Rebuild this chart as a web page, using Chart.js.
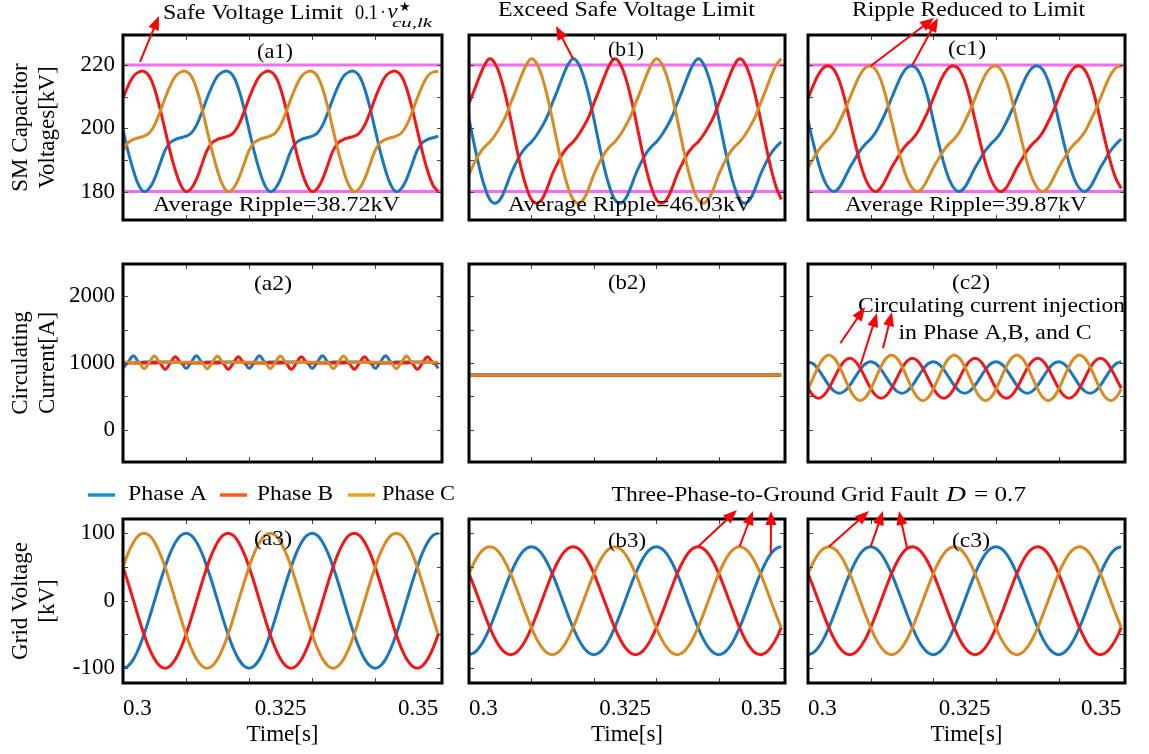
<!DOCTYPE html>
<html>
<head>
<meta charset="utf-8">
<script src="https://cdn.jsdelivr.net/npm/chart.js@4.4.1/dist/chart.umd.min.js"></script>
<style>
  html, body { margin: 0; padding: 0; background: #fff; }
  #fig { position: relative; width: 1149px; height: 754px; overflow: hidden; background: #fff; }
  #fig canvas { position: absolute; }
</style>
</head>
<body>
<div id="fig"></div>
<script>
// --- DATA (sampled every 15 deg of 50 Hz) ---
const time = [
  0.3, 0.30083, 0.30167, 0.3025, 0.30333, 0.30417, 0.305, 0.30583, 0.30667, 0.3075, 0.30833, 0.30917,
  0.31, 0.31083, 0.31167, 0.3125, 0.31333, 0.31417, 0.315, 0.31583, 0.31667, 0.3175, 0.31833, 0.31917,
  0.32, 0.32083, 0.32167, 0.3225, 0.32333, 0.32417, 0.325, 0.32583, 0.32667, 0.3275, 0.32833, 0.32917,
  0.33, 0.33083, 0.33167, 0.3325, 0.33333, 0.33417, 0.335, 0.33583, 0.33667, 0.3375, 0.33833, 0.33917,
  0.34, 0.34083, 0.34167, 0.3425, 0.34333, 0.34417, 0.345, 0.34583, 0.34667, 0.3475, 0.34833, 0.34917,
  0.35
];
const phaseNames = ['Phase A', 'Phase B', 'Phase C'];
const xTickVals = [0.3, 0.325, 0.35];
const xMinorTicks = [0.31, 0.32, 0.33, 0.34];
const safeLimit = [180, 220];

// (a1) SM capacitor voltages [kV]
const a1PhaseA = [
  199.5, 192.5, 186.5, 182, 180, 181, 184, 188.5, 193, 195.5, 196.5, 197,
  197.5, 198.5, 201, 205, 209.5, 213.5, 216.5, 217.8,
  218, 216.5, 212.5, 206.5, 199.5, 192.5, 186.5, 182, 180, 181, 184, 188.5,
  193, 195.5, 196.5, 197, 197.5, 198.5, 201, 205, 209.5, 213.5, 216.5, 217.8,
  218, 216.5, 212.5, 206.5, 199.5, 192.5, 186.5, 182, 180, 181, 184, 188.5,
  193, 195.5, 196.5, 197, 197.5
];
const a1PhaseB = [
  209.5, 213.5, 216.5, 217.8,
  218, 216.5, 212.5, 206.5, 199.5, 192.5, 186.5, 182, 180, 181, 184, 188.5,
  193, 195.5, 196.5, 197, 197.5, 198.5, 201, 205, 209.5, 213.5, 216.5, 217.8,
  218, 216.5, 212.5, 206.5, 199.5, 192.5, 186.5, 182, 180, 181, 184, 188.5,
  193, 195.5, 196.5, 197, 197.5, 198.5, 201, 205, 209.5, 213.5, 216.5, 217.8,
  218, 216.5, 212.5, 206.5, 199.5, 192.5, 186.5, 182, 180
];
const a1PhaseC = [
  193, 195.5, 196.5, 197, 197.5, 198.5, 201, 205, 209.5, 213.5, 216.5, 217.8,
  218, 216.5, 212.5, 206.5, 199.5, 192.5, 186.5, 182, 180, 181, 184, 188.5,
  193, 195.5, 196.5, 197, 197.5, 198.5, 201, 205, 209.5, 213.5, 216.5, 217.8,
  218, 216.5, 212.5, 206.5, 199.5, 192.5, 186.5, 182, 180, 181, 184, 188.5,
  193, 195.5, 196.5, 197, 197.5, 198.5, 201, 205, 209.5, 213.5, 216.5, 217.8,
  218
];

// (b1)
const b1PhaseA = [
  203, 195, 187.5, 181.5, 177.5, 176.3, 177.5, 181, 185.4, 188.9, 192, 194.1,
  195.7, 197.8, 200.5, 203.6, 207.9, 212, 216.3, 220,
  222, 220.5, 216.5, 210.5, 203, 195, 187.5, 181.5, 177.5, 176.3, 177.5, 181,
  185.4, 188.9, 192, 194.1, 195.7, 197.8, 200.5, 203.6, 207.9, 212, 216.3, 220,
  222, 220.5, 216.5, 210.5, 203, 195, 187.5, 181.5, 177.5, 176.3, 177.5, 181,
  185.4, 188.9, 192, 194.1, 195.7
];
const b1PhaseB = [
  207.9, 212, 216.3, 220,
  222, 220.5, 216.5, 210.5, 203, 195, 187.5, 181.5, 177.5, 176.3, 177.5, 181,
  185.4, 188.9, 192, 194.1, 195.7, 197.8, 200.5, 203.6, 207.9, 212, 216.3, 220,
  222, 220.5, 216.5, 210.5, 203, 195, 187.5, 181.5, 177.5, 176.3, 177.5, 181,
  185.4, 188.9, 192, 194.1, 195.7, 197.8, 200.5, 203.6, 207.9, 212, 216.3, 220,
  222, 220.5, 216.5, 210.5, 203, 195, 187.5, 181.5, 177.5
];
const b1PhaseC = [
  185.4, 188.9, 192, 194.1, 195.7, 197.8, 200.5, 203.6, 207.9, 212, 216.3, 220,
  222, 220.5, 216.5, 210.5, 203, 195, 187.5, 181.5, 177.5, 176.3, 177.5, 181,
  185.4, 188.9, 192, 194.1, 195.7, 197.8, 200.5, 203.6, 207.9, 212, 216.3, 220,
  222, 220.5, 216.5, 210.5, 203, 195, 187.5, 181.5, 177.5, 176.3, 177.5, 181,
  185.4, 188.9, 192, 194.1, 195.7, 197.8, 200.5, 203.6, 207.9, 212, 216.3, 220,
  222
];

// (c1)
const c1PhaseA = [
  202.5, 195.5, 189, 184, 181, 180, 181.3, 184.2, 187.5, 190.3, 193, 195,
  196.6, 198.8, 202, 205.5, 209.5, 213.5, 217, 219.2,
  219.7, 218.5, 215, 209.5, 202.5, 195.5, 189, 184, 181, 180, 181.3, 184.2,
  187.5, 190.3, 193, 195, 196.6, 198.8, 202, 205.5, 209.5, 213.5, 217, 219.2,
  219.7, 218.5, 215, 209.5, 202.5, 195.5, 189, 184, 181, 180, 181.3, 184.2,
  187.5, 190.3, 193, 195, 196.6
];
const c1PhaseB = [
  209.5, 213.5, 217, 219.2,
  219.7, 218.5, 215, 209.5, 202.5, 195.5, 189, 184, 181, 180, 181.3, 184.2,
  187.5, 190.3, 193, 195, 196.6, 198.8, 202, 205.5, 209.5, 213.5, 217, 219.2,
  219.7, 218.5, 215, 209.5, 202.5, 195.5, 189, 184, 181, 180, 181.3, 184.2,
  187.5, 190.3, 193, 195, 196.6, 198.8, 202, 205.5, 209.5, 213.5, 217, 219.2,
  219.7, 218.5, 215, 209.5, 202.5, 195.5, 189, 184, 181
];
const c1PhaseC = [
  187.5, 190.3, 193, 195, 196.6, 198.8, 202, 205.5, 209.5, 213.5, 217, 219.2,
  219.7, 218.5, 215, 209.5, 202.5, 195.5, 189, 184, 181, 180, 181.3, 184.2,
  187.5, 190.3, 193, 195, 196.6, 198.8, 202, 205.5, 209.5, 213.5, 217, 219.2,
  219.7, 218.5, 215, 209.5, 202.5, 195.5, 189, 184, 181, 180, 181.3, 184.2,
  187.5, 190.3, 193, 195, 196.6, 198.8, 202, 205.5, 209.5, 213.5, 217, 219.2,
  219.7
];

// (a2) circulating current [A]
const a2PhaseA = [
  920, 1015, 1110, 1015, 1015, 1015, 1015, 1015, 1015, 1015, 1015, 1015,
  920, 1015, 1110, 1015, 1015, 1015, 1015, 1015, 1015, 1015, 1015, 1015,
  920, 1015, 1110, 1015, 1015, 1015, 1015, 1015, 1015, 1015, 1015, 1015,
  920, 1015, 1110, 1015, 1015, 1015, 1015, 1015, 1015, 1015, 1015, 1015,
  920, 1015, 1110, 1015, 1015, 1015, 1015, 1015, 1015, 1015, 1015, 1015,
  920
];
const a2PhaseB = [
  1000, 1000, 1000, 1000, 1000, 1000, 1000, 1000, 905, 1000, 1095, 1000,
  1000, 1000, 1000, 1000, 1000, 1000, 1000, 1000, 905, 1000, 1095, 1000,
  1000, 1000, 1000, 1000, 1000, 1000, 1000, 1000, 905, 1000, 1095, 1000,
  1000, 1000, 1000, 1000, 1000, 1000, 1000, 1000, 905, 1000, 1095, 1000,
  1000, 1000, 1000, 1000, 1000, 1000, 1000, 1000, 905, 1000, 1095, 1000,
  1000
];
const a2PhaseC = [
  1010, 1010, 1010, 1010, 915, 1010, 1105, 1010, 1010, 1010, 1010, 1010,
  1010, 1010, 1010, 1010, 915, 1010, 1105, 1010, 1010, 1010, 1010, 1010,
  1010, 1010, 1010, 1010, 915, 1010, 1105, 1010, 1010, 1010, 1010, 1010,
  1010, 1010, 1010, 1010, 915, 1010, 1105, 1010, 1010, 1010, 1010, 1010,
  1010, 1010, 1010, 1010, 915, 1010, 1105, 1010, 1010, 1010, 1010, 1010,
  1010
];

// (b2)
const b2PhaseA = [
  823, 823, 823, 823, 823, 823, 823, 823, 823, 823, 823, 823,
  823, 823, 823, 823, 823, 823, 823, 823, 823, 823, 823, 823,
  823, 823, 823, 823, 823, 823, 823, 823, 823, 823, 823, 823,
  823, 823, 823, 823, 823, 823, 823, 823, 823, 823, 823, 823,
  823, 823, 823, 823, 823, 823, 823, 823, 823, 823, 823, 823,
  823
];
const b2PhaseB = [
  818, 818, 818, 818, 818, 818, 818, 818, 818, 818, 818, 818,
  818, 818, 818, 818, 818, 818, 818, 818, 818, 818, 818, 818,
  818, 818, 818, 818, 818, 818, 818, 818, 818, 818, 818, 818,
  818, 818, 818, 818, 818, 818, 818, 818, 818, 818, 818, 818,
  818, 818, 818, 818, 818, 818, 818, 818, 818, 818, 818, 818,
  818
];
const b2PhaseC = [
  820, 820, 820, 820, 820, 820, 820, 820, 820, 820, 820, 820,
  820, 820, 820, 820, 820, 820, 820, 820, 820, 820, 820, 820,
  820, 820, 820, 820, 820, 820, 820, 820, 820, 820, 820, 820,
  820, 820, 820, 820, 820, 820, 820, 820, 820, 820, 820, 820,
  820, 820, 820, 820, 820, 820, 820, 820, 820, 820, 820, 820,
  820
];

// (c2) 100 Hz injection
const c2PhaseA = [
  1020, 988, 902, 784, 666, 580, 548, 580, 666, 784, 902, 988,
  1020, 988, 902, 784, 666, 580, 548, 580, 666, 784, 902, 988,
  1020, 988, 902, 784, 666, 580, 548, 580, 666, 784, 902, 988,
  1020, 988, 902, 784, 666, 580, 548, 580, 666, 784, 902, 988,
  1020, 988, 902, 784, 666, 580, 548, 580, 666, 784, 902, 988,
  1020
];
const c2PhaseB = [
  623, 514, 474, 514, 623, 772, 921, 1030, 1070, 1030, 921, 772,
  623, 514, 474, 514, 623, 772, 921, 1030, 1070, 1030, 921, 772,
  623, 514, 474, 514, 623, 772, 921, 1030, 1070, 1030, 921, 772,
  623, 514, 474, 514, 623, 772, 921, 1030, 1070, 1030, 921, 772,
  623, 514, 474, 514, 623, 772, 921, 1030, 1070, 1030, 921, 772,
  623
];
const c2PhaseC = [
  608, 778, 949, 1073, 1119, 1073, 949, 778, 608, 483, 437, 483,
  608, 778, 949, 1073, 1119, 1073, 949, 778, 608, 483, 437, 483,
  608, 778, 949, 1073, 1119, 1073, 949, 778, 608, 483, 437, 483,
  608, 778, 949, 1073, 1119, 1073, 949, 778, 608, 483, 437, 483,
  608, 778, 949, 1073, 1119, 1073, 949, 778, 608, 483, 437, 483,
  608
];

// (a3) grid voltage [kV], healthy
const a3PhaseA = [
  -100, -96.6, -86.6, -70.7, -50, -25.9, 0, 25.9, 50, 70.7, 86.6, 96.6,
  100, 96.6, 86.6, 70.7, 50, 25.9, 0, -25.9, -50, -70.7, -86.6, -96.6,
  -100, -96.6, -86.6, -70.7, -50, -25.9, 0, 25.9, 50, 70.7, 86.6, 96.6,
  100, 96.6, 86.6, 70.7, 50, 25.9, 0, -25.9, -50, -70.7, -86.6, -96.6,
  -100, -96.6, -86.6, -70.7, -50, -25.9, 0, 25.9, 50, 70.7, 86.6, 96.6,
  100
];
const a3PhaseB = [
  50, 25.9, 0, -25.9, -50, -70.7, -86.6, -96.6, -100, -96.6, -86.6, -70.7,
  -50, -25.9, 0, 25.9, 50, 70.7, 86.6, 96.6, 100, 96.6, 86.6, 70.7,
  50, 25.9, 0, -25.9, -50, -70.7, -86.6, -96.6, -100, -96.6, -86.6, -70.7,
  -50, -25.9, 0, 25.9, 50, 70.7, 86.6, 96.6, 100, 96.6, 86.6, 70.7,
  50, 25.9, 0, -25.9, -50, -70.7, -86.6, -96.6, -100, -96.6, -86.6, -70.7,
  -50
];
const a3PhaseC = [
  50, 70.7, 86.6, 96.6, 100, 96.6, 86.6, 70.7, 50, 25.9, 0, -25.9,
  -50, -70.7, -86.6, -96.6, -100, -96.6, -86.6, -70.7, -50, -25.9, 0, 25.9,
  50, 70.7, 86.6, 96.6, 100, 96.6, 86.6, 70.7, 50, 25.9, 0, -25.9,
  -50, -70.7, -86.6, -96.6, -100, -96.6, -86.6, -70.7, -50, -25.9, 0, 25.9,
  50, 70.7, 86.6, 96.6, 100, 96.6, 86.6, 70.7, 50, 25.9, 0, -25.9,
  -50
];

// (b3)/(c3) grid voltage during fault, D = 0.7
const faultPhaseA = [
  -80, -77.3, -69.3, -56.6, -40, -20.7, 0, 20.7, 40, 56.6, 69.3, 77.3,
  80, 77.3, 69.3, 56.6, 40, 20.7, 0, -20.7, -40, -56.6, -69.3, -77.3,
  -80, -77.3, -69.3, -56.6, -40, -20.7, 0, 20.7, 40, 56.6, 69.3, 77.3,
  80, 77.3, 69.3, 56.6, 40, 20.7, 0, -20.7, -40, -56.6, -69.3, -77.3,
  -80, -77.3, -69.3, -56.6, -40, -20.7, 0, 20.7, 40, 56.6, 69.3, 77.3,
  80
];
const faultPhaseB = [
  40, 20.7, 0, -20.7, -40, -56.6, -69.3, -77.3, -80, -77.3, -69.3, -56.6,
  -40, -20.7, 0, 20.7, 40, 56.6, 69.3, 77.3, 80, 77.3, 69.3, 56.6,
  40, 20.7, 0, -20.7, -40, -56.6, -69.3, -77.3, -80, -77.3, -69.3, -56.6,
  -40, -20.7, 0, 20.7, 40, 56.6, 69.3, 77.3, 80, 77.3, 69.3, 56.6,
  40, 20.7, 0, -20.7, -40, -56.6, -69.3, -77.3, -80, -77.3, -69.3, -56.6,
  -40
];
const faultPhaseC = [
  40, 56.6, 69.3, 77.3, 80, 77.3, 69.3, 56.6, 40, 20.7, 0, -20.7,
  -40, -56.6, -69.3, -77.3, -80, -77.3, -69.3, -56.6, -40, -20.7, 0, 20.7,
  40, 56.6, 69.3, 77.3, 80, 77.3, 69.3, 56.6, 40, 20.7, 0, -20.7,
  -40, -56.6, -69.3, -77.3, -80, -77.3, -69.3, -56.6, -40, -20.7, 0, 20.7,
  40, 56.6, 69.3, 77.3, 80, 77.3, 69.3, 56.6, 40, 20.7, 0, -20.7,
  -40
];

// --- LAYOUT / STYLE ---
const SERIF = "'Liberation Serif', 'Times New Roman', serif";
const lineColors = ['#1a76bd', '#f41616', '#d98a22'];
const legendColors = ['#1e90d8', '#ff5a1f', '#eba21e'];
const COLS = { a: [123, 442], b: [469, 785], c: [808, 1125] };
const ROWS = { 1: [35, 220], 2: [264, 462], 3: [519, 683] };

const rowCfg = {
  1: { min: 171, max: 229.5, yTicks: [180, 200, 220], yMinor: [180, 190, 200, 210, 220], title: ['SM Capacitor', 'Voltages[kV]'], limits: safeLimit },
  2: { min: -480, max: 2480, yTicks: [0, 1000, 2000], yMinor: [0, 500, 1000, 1500, 2000], title: ['Circulating', 'Current[A]'], limits: null },
  3: { min: -122, max: 121, yTicks: [-100, 0, 100], yMinor: [-100, -50, 0, 50, 100], title: ['Grid Voltage', '[kV]'], limits: null }
};

const panels = [
  { id: 'a1', col: 'a', row: 1, series: [a1PhaseA, a1PhaseB, a1PhaseC] },
  { id: 'b1', col: 'b', row: 1, series: [b1PhaseA, b1PhaseB, b1PhaseC] },
  { id: 'c1', col: 'c', row: 1, series: [c1PhaseA, c1PhaseB, c1PhaseC] },
  { id: 'a2', col: 'a', row: 2, series: [a2PhaseA, a2PhaseB, a2PhaseC] },
  { id: 'b2', col: 'b', row: 2, series: [b2PhaseA, b2PhaseB, b2PhaseC] },
  { id: 'c2', col: 'c', row: 2, series: [c2PhaseA, c2PhaseB, c2PhaseC] },
  { id: 'a3', col: 'a', row: 3, series: [a3PhaseA, a3PhaseB, a3PhaseC] },
  { id: 'b3', col: 'b', row: 3, series: [faultPhaseA, faultPhaseB, faultPhaseC] },
  { id: 'c3', col: 'c', row: 3, series: [faultPhaseA, faultPhaseB, faultPhaseC] }
];

// magenta limits, inward ticks and the black frame
const panelDeco = {
  id: 'panelDeco',
  beforeDatasetsDraw(chart, args, opts) {
    if (!opts.limits) return;
    const { ctx, chartArea: a, scales: { y } } = chart;
    ctx.save();
    ctx.strokeStyle = '#f36cf3';
    ctx.lineWidth = 3;
    opts.limits.forEach(v => {
      const py = y.getPixelForValue(v);
      ctx.beginPath(); ctx.moveTo(a.left, py); ctx.lineTo(a.right, py); ctx.stroke();
    });
    ctx.restore();
  },
  afterDraw(chart, args, opts) {
    const { ctx, chartArea: a, scales: { x, y } } = chart;
    ctx.save();
    ctx.strokeStyle = '#444';
    ctx.lineWidth = 1;
    ctx.beginPath();
    opts.xMinor.forEach(v => {
      const px = Math.round(x.getPixelForValue(v)) + 0.5;
      ctx.moveTo(px, a.top); ctx.lineTo(px, a.top + 5);
      ctx.moveTo(px, a.bottom); ctx.lineTo(px, a.bottom - 5);
    });
    opts.yMinor.forEach(v => {
      const py = Math.round(y.getPixelForValue(v)) + 0.5;
      ctx.moveTo(a.left, py); ctx.lineTo(a.left + 5, py);
      ctx.moveTo(a.right, py); ctx.lineTo(a.right - 5, py);
    });
    ctx.stroke();
    ctx.strokeStyle = '#000';
    ctx.lineWidth = 3;
    ctx.strokeRect(a.left, a.top, a.right - a.left, a.bottom - a.top);
    ctx.restore();
  }
};

const fig = document.getElementById('fig');
const charts = {};

function makePanel(p) {
  const [bl, br] = COLS[p.col];
  const [bt, bb] = ROWS[p.row];
  const firstCol = p.col === 'a';
  const lastRow = p.row === 3;
  const rp = lastRow ? 24 : 6;
  const left = firstCol ? 0 : bl - 6;
  const top = bt - 6;
  const width = br + rp - left;
  const height = (lastRow ? 754 : bb + 6) - top;
  const r = rowCfg[p.row];

  const cv = document.createElement('canvas');
  cv.width = width; cv.height = height;
  cv.style.left = left + 'px'; cv.style.top = top + 'px';
  cv.style.width = width + 'px'; cv.style.height = height + 'px';
  fig.appendChild(cv);

  const chart = new Chart(cv, {
    type: 'line',
    data: {
      labels: time,
      datasets: p.series.map((vals, i) => ({
        label: phaseNames[i],
        data: vals,
        borderColor: lineColors[i],
        borderWidth: 3,
        pointRadius: 0,
        tension: 0.4,
        fill: false,
        order: 3 - i
      }))
    },
    options: {
      responsive: false,
      animation: false,
      events: [],
      layout: { padding: { left: firstCol ? 0 : 6, right: rp, top: 6, bottom: lastRow ? 0 : 6 } },
      plugins: {
        legend: { display: false },
        tooltip: { enabled: false },
        panelDeco: { limits: r.limits, yMinor: r.yMinor, xMinor: xMinorTicks }
      },
      scales: {
        x: {
          type: 'linear', min: 0.3, max: 0.3506,
          grid: { display: false }, border: { display: false },
          ticks: { display: lastRow, color: '#000', font: { family: SERIF, size: 23 }, padding: 4, align: 'inner', maxRotation: 0, autoSkip: false, callback: v => String(v) },
          afterBuildTicks: s => { s.ticks = xTickVals.map(v => ({ value: v })); },
          title: { display: lastRow, text: 'Time[s]', color: '#000', font: { family: SERIF, size: 23 }, padding: { top: 0, bottom: 5 } },
          afterFit: s => { s.height = lastRow ? 71 : 0; s.paddingLeft = 0; s.paddingRight = 0; s.paddingTop = 0; s.paddingBottom = 0; }
        },
        y: {
          min: r.min, max: r.max,
          grid: { display: false }, border: { display: false },
          ticks: { display: firstCol, color: '#000', font: { family: SERIF, size: 23 }, padding: 0, callback: v => String(v) },
          afterBuildTicks: s => { s.ticks = r.yTicks.map(v => ({ value: v })); },
          title: { display: firstCol, text: r.title, color: '#000', font: { family: SERIF, size: 23 }, padding: { top: 7, bottom: 0 } },
          afterFit: s => { s.width = firstCol ? 123 : 0; s.paddingLeft = 0; s.paddingRight = 0; s.paddingTop = 0; s.paddingBottom = 0; }
        }
      }
    },
    plugins: [panelDeco]
  });
  chart.$left = left;
  chart.$top = top;
  charts[p.id] = chart;
}

panels.forEach(makePanel);

// --- OVERLAY: texts, legend, arrows ---
const ov = document.createElement('canvas');
ov.width = 1149; ov.height = 754;
ov.style.left = '0px'; ov.style.top = '0px';
ov.style.width = '1149px'; ov.style.height = '754px';
fig.appendChild(ov);
const g = ov.getContext('2d');
g.fillStyle = '#000';

function fitText(txt, cx, cy, w, size, italic) {
  g.save();
  g.font = (italic ? 'italic ' : '') + size + 'px ' + SERIF;
  const m = g.measureText(txt).width;
  g.translate(cx, cy);
  g.scale(w / m, 1);
  g.textAlign = 'center';
  g.textBaseline = 'middle';
  g.fillText(txt, 0, 0);
  g.restore();
}

fitText('Safe Voltage Limit', 253, 13, 180, 22);
fitText('0.1', 366.5, 13, 23, 22);
fitText('\u00b7', 383, 13, 5, 22);
fitText('v', 392.5, 12, 10, 22, true);
fitText('\u2605', 405, 8, 12, 13);
fitText('cu,lk', 412, 24, 40, 13, true);
fitText('Exceed Safe Voltage Limit', 626.5, 10, 257, 22);
fitText('Ripple Reduced to Limit', 968.5, 10, 233, 22);

fitText('(a1)', 275, 52, 36, 22);
fitText('(b1)', 626, 50, 36, 22);
fitText('(c1)', 967, 49, 38, 22);
fitText('Average Ripple=38.72kV', 276.5, 205, 247, 22);
fitText('Average Ripple=46.03kV', 630, 205, 244, 22);
fitText('Average Ripple=39.87kV', 966, 205, 242, 22);

fitText('(a2)', 273, 284, 38, 22);
fitText('(b2)', 627, 283, 38, 22);
fitText('(c2)', 971, 283, 38, 22);
fitText('Circulating current injection', 991.5, 306, 267, 22);
fitText('in Phase A,B, and C', 995, 333, 193, 22);

fitText('(a3)', 273, 539, 38, 22);
fitText('(b3)', 627, 541, 38, 22);
fitText('(c3)', 971, 541, 38, 22);

// legend
const legendItems = [[88, 115, 167.5, 79], [220, 247, 295, 76], [348, 375, 418.5, 73]];
legendItems.forEach(([x1, x2, tc, tw], i) => {
  g.save();
  g.strokeStyle = legendColors[i];
  g.lineWidth = 3.5;
  g.beginPath(); g.moveTo(x1, 495); g.lineTo(x2, 495); g.stroke();
  g.restore();
  fitText(phaseNames[i], tc, 494, tw, 22);
});

fitText('Three-Phase-to-Ground Grid Fault', 775, 495, 327, 22);
fitText('D', 956, 495, 20, 22, true);
fitText('= 0.7', 1000, 495, 52, 22);

// arrows: tail anchored in panel data coordinates, head in page pixels
const arrows = [
  ['a1', 0.3027, 221, 159, 16],
  ['b1', time[20], 222, 556, 26],
  ['c1', time[12], 219.7, 934, 18],
  ['c1', time[20], 220, 938, 18],
  ['c2', 0.30516, 1295, 865, 307],
  ['c2', 0.30838, 970, 877, 313],
  ['c2', 0.31197, 1220, 892, 312],
  ['b3', time[44], 80, 737, 510],
  ['b3', time[52], 80, 753, 511],
  ['b3', time[58], 71, 771, 511],
  ['c3', time[4], 80, 869, 511],
  ['c3', time[12], 80, 883, 511],
  ['c3', time[19], 77, 899, 511]
];

function drawArrow(x1, y1, x2, y2) {
  const ang = Math.atan2(y2 - y1, x2 - x1);
  const hl = 14, hw = 5.5;
  const c = Math.cos(ang), s = Math.sin(ang);
  g.beginPath();
  g.moveTo(x1, y1);
  g.lineTo(x2 - hl * 0.8 * c, y2 - hl * 0.8 * s);
  g.stroke();
  g.beginPath();
  g.moveTo(x2, y2);
  g.lineTo(x2 - hl * c + hw * s, y2 - hl * s - hw * c);
  g.lineTo(x2 - hl * c - hw * s, y2 - hl * s + hw * c);
  g.closePath();
  g.fill();
}

g.save();
g.strokeStyle = '#ff0000';
g.fillStyle = '#ff0000';
g.lineWidth = 2;
arrows.forEach(([id, t, v, hx, hy]) => {
  const ch = charts[id];
  const tx = ch.$left + ch.scales.x.getPixelForValue(t);
  const ty = ch.$top + ch.scales.y.getPixelForValue(v);
  drawArrow(tx, ty, hx, hy);
});
g.restore();
</script>
</body>
</html>
